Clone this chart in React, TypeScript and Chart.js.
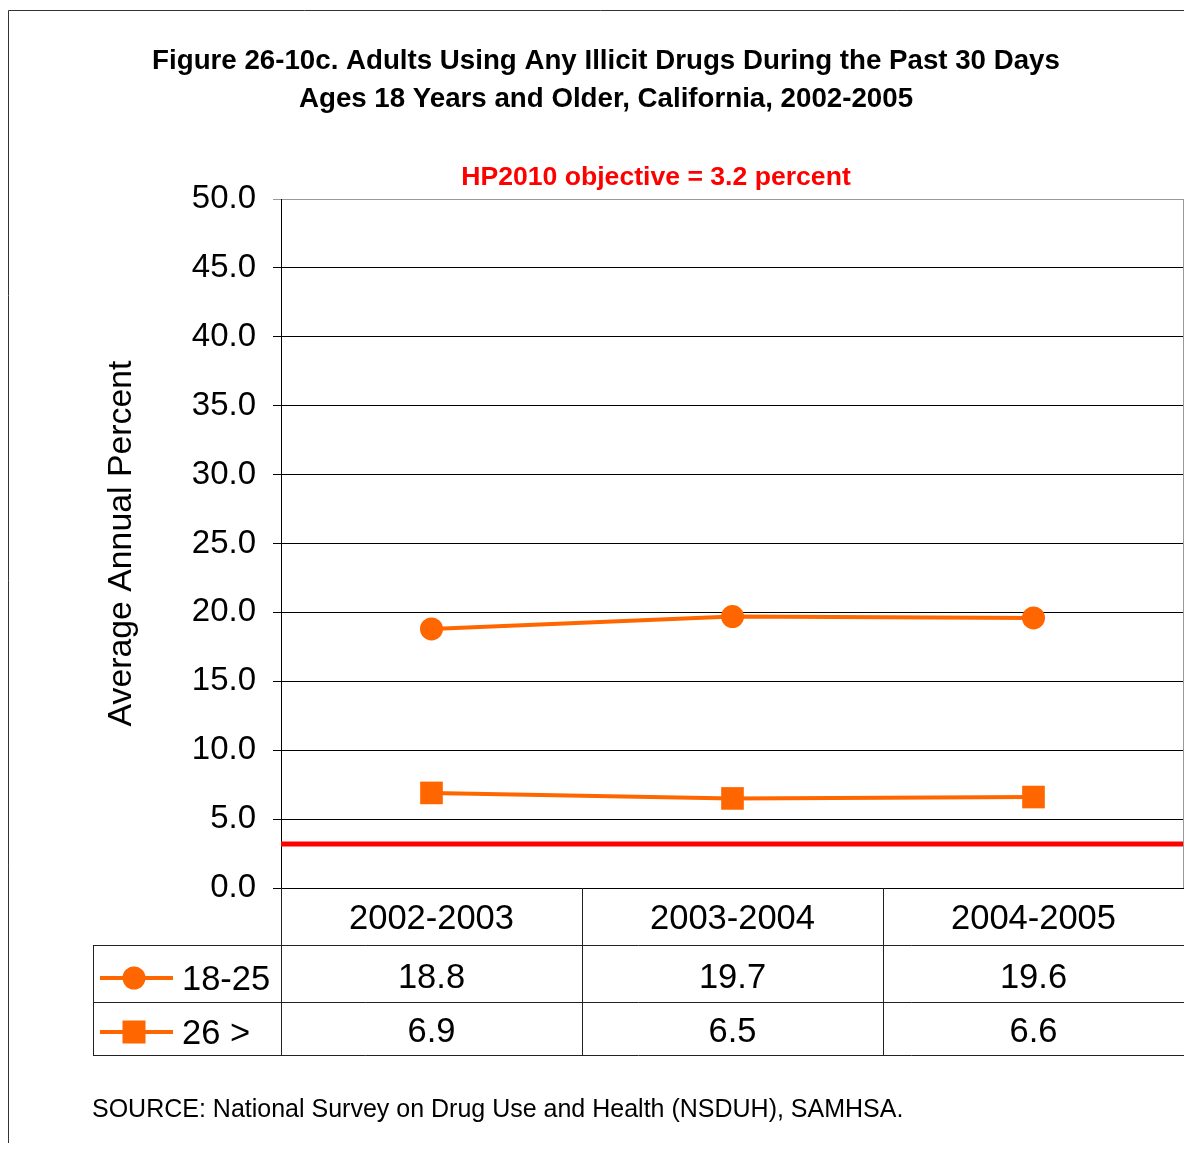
import React, { useEffect, useRef } from "react";
import { Chart, registerables } from "chart.js";

Chart.register(...registerables);

const titleLines = [
  "Figure 26-10c. Adults Using Any Illicit Drugs During the Past 30 Days",
  "Ages 18 Years and Older, California, 2002-2005",
];
const objectiveLabel = "HP2010 objective = 3.2 percent";
const yAxisTitle = "Average Annual Percent";
const sourceNote = "SOURCE: National Survey on Drug Use and Health (NSDUH), SAMHSA.";

const categories = ["2002-2003", "2003-2004", "2004-2005"];
const seriesLabels = ["18-25", "26 >"];
const ages18to25 = [18.8, 19.7, 19.6];
const ages26plus = [6.9, 6.5, 6.6];
const hp2010Objective = 3.2;
const yMin = 0;
const yMax = 50;
const yStep = 5;

const FONT = '"Liberation Sans", Arial, sans-serif';
const ORANGE = "#FF6600";
const W = 1184;
const H = 1143;

function drawMarker(ctx: CanvasRenderingContext2D, style: string, x: number, y: number) {
  ctx.fillStyle = ORANGE;
  if (style === "circle") {
    ctx.beginPath();
    ctx.arc(x, y, 11.5, 0, Math.PI * 2);
    ctx.fill();
  } else {
    ctx.fillRect(x - 11.5, y - 11.5, 23, 23);
  }
}

const overlayPlugin = {
  id: "overlay",
  beforeDatasetsDraw(chart: any) {
    const { ctx, chartArea: a, scales } = chart;
    const yPix = scales.y.getPixelForValue(hp2010Objective);
    ctx.save();
    ctx.strokeStyle = "#FF0000";
    ctx.lineWidth = 5;
    ctx.beginPath();
    ctx.moveTo(a.left, yPix);
    ctx.lineTo(a.right, yPix);
    ctx.stroke();
    ctx.strokeStyle = "#999999";
    ctx.lineWidth = 2;
    ctx.beginPath();
    ctx.moveTo(a.right, a.top);
    ctx.lineTo(a.right, a.bottom);
    ctx.stroke();
    ctx.restore();
  },
  afterDraw(chart: any) {
    const { ctx, chartArea: a, scales } = chart;
    const x = scales.x;
    ctx.save();

    ctx.strokeStyle = "#333333";
    ctx.lineWidth = 1;
    ctx.beginPath();
    ctx.moveTo(0.5, H);
    ctx.lineTo(0.5, 2.5);
    ctx.lineTo(W, 2.5);
    ctx.stroke();

    ctx.fillStyle = "#000";
    ctx.textAlign = "center";
    ctx.textBaseline = "middle";
    ctx.font = `bold 27.7px ${FONT}`;
    ctx.fillText(titleLines[0], 598, 53);
    ctx.fillText(titleLines[1], 598, 91);

    ctx.fillStyle = "#FF0000";
    ctx.font = `bold 26.6px ${FONT}`;
    ctx.fillText(objectiveLabel, 648, 170);

    ctx.fillStyle = "#000";
    ctx.font = `33.8px ${FONT}`;
    ctx.save();
    ctx.translate(114, (a.top + a.bottom) / 2);
    ctx.rotate(-Math.PI / 2);
    ctx.fillText(yAxisTitle, 0, 0);
    ctx.restore();

    const b = Math.round(a.bottom);
    const legendLeft = 85;
    const rowLines = [b + 57, b + 114, b + 167];
    const colW = (a.right - a.left) / categories.length;
    ctx.strokeStyle = "#222";
    ctx.lineWidth = 1;
    ctx.beginPath();
    rowLines.forEach((ry) => {
      ctx.moveTo(legendLeft, ry + 0.5);
      ctx.lineTo(a.right, ry + 0.5);
    });
    for (let i = 0; i <= categories.length; i++) {
      const cx = Math.round(a.left + i * colW) + 0.5;
      ctx.moveTo(cx, b);
      ctx.lineTo(cx, b + 167);
    }
    ctx.moveTo(legendLeft + 0.5, b + 57);
    ctx.lineTo(legendLeft + 0.5, b + 167);
    ctx.stroke();

    ctx.fillStyle = "#000";
    ctx.font = `34.5px ${FONT}`;
    ctx.textAlign = "center";
    const rowY = [b + 90, b + 144];
    const seriesData = [ages18to25, ages26plus];
    categories.forEach((c, i) => {
      const cx = x.getPixelForValue(i);
      ctx.fillText(c, cx, b + 31);
      seriesData.forEach((d, s) => {
        ctx.fillText(d[i].toFixed(1), cx, rowY[s]);
      });
    });

    const styles = ["circle", "rect"];
    seriesLabels.forEach((lbl, s) => {
      const ly = rowY[s];
      ctx.strokeStyle = ORANGE;
      ctx.lineWidth = 4;
      ctx.beginPath();
      ctx.moveTo(92, ly);
      ctx.lineTo(165, ly);
      ctx.stroke();
      drawMarker(ctx, styles[s], 126, ly);
      ctx.fillStyle = "#000";
      ctx.textAlign = "left";
      ctx.fillText(lbl, 174, ly + 2);
    });

    ctx.font = `25px ${FONT}`;
    ctx.textAlign = "left";
    ctx.fillText(sourceNote, 84, 1102);

    ctx.restore();
  },
};

export default function App() {
  const ref = useRef<HTMLCanvasElement | null>(null);
  useEffect(() => {
    if (!ref.current) return;
    const chart = new Chart(ref.current, {
      type: "line",
      data: {
        labels: categories,
        datasets: [
          {
            label: seriesLabels[0],
            data: ages18to25,
            borderColor: ORANGE,
            backgroundColor: ORANGE,
            borderWidth: 4,
            pointStyle: "circle",
            pointRadius: 11.5,
            pointBorderWidth: 0,
            tension: 0,
          },
          {
            label: seriesLabels[1],
            data: ages26plus,
            borderColor: ORANGE,
            backgroundColor: ORANGE,
            borderWidth: 4,
            pointStyle: "rect",
            pointRadius: 16,
            pointBorderWidth: 0,
            tension: 0,
          },
        ],
      },
      options: {
        responsive: false,
        animation: false,
        layout: { autoPadding: false, padding: { left: 0, right: 8, top: 191, bottom: H - 880 } },
        plugins: { legend: { display: false }, title: { display: false }, tooltip: { enabled: false } },
        scales: {
          x: { type: "category", offset: true, display: false },
          y: {
            min: yMin,
            max: yMax,
            afterFit: (scale: any) => {
              scale.width = 273;
            },
            ticks: {
              stepSize: yStep,
              padding: 17,
              color: "#000",
              font: { family: FONT, size: 33 },
              callback: (v: any) => Number(v).toFixed(1),
            },
            grid: {
              color: (c: any) => (c.tick && c.tick.value === yMax ? "#999999" : "#000000"),
              lineWidth: 1,
              tickLength: 8,
            },
            border: { display: true, color: "#000", width: 1 },
          },
        },
      },
      plugins: [overlayPlugin],
    });
    return () => chart.destroy();
  }, []);
  return (
    <div style={{ width: W, height: H, marginBottom: -8 }}>
      <canvas ref={ref} width={W} height={H} style={{ display: "block", width: W, height: H }} />
    </div>
  );
}
